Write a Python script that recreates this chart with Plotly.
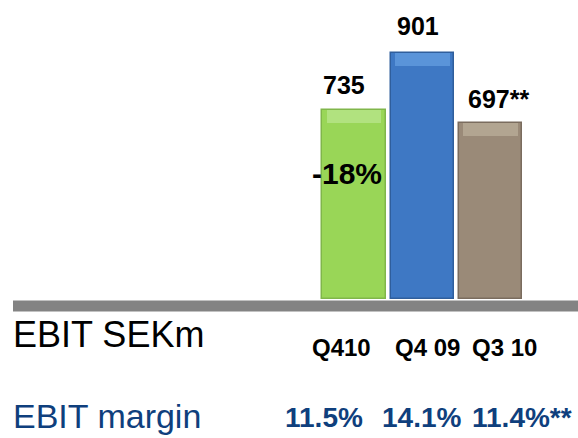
import plotly.graph_objects as go

categories = ["Q410", "Q4 09", "Q3 10"]
ebit = [735, 901, 697]
value_labels = ["735", "901", "697**"]
margins = ["11.5%", "14.1%", "11.4%**"]
change_label = "-18%"
colors = ["#99d657", "#3e78c4", "#9a8a78"]
highlight_colors = ["#b4e384", "#5d97dc", "#b5a794"]
edge_colors = ["#80b64a", "#2f5e9c", "#7a6c5e"]

W, H = 578, 438
FONT = "Liberation Sans, Arial, sans-serif"
x_range = [-5.185, 3.28]
y_bottom_px = 299.3
y_min = 186.0
px_per_unit = 0.345
y_max = y_min + y_bottom_px / px_per_unit
band = 13 / px_per_unit  # highlight band height in data units

xs = list(range(len(categories)))
fig = go.Figure()
fig.add_trace(go.Bar(
    x=xs, y=[v - y_min for v in ebit], base=y_min, width=0.93,
    marker=dict(color=colors, line=dict(color=edge_colors, width=1.5)),
    hoverinfo="skip",
))
fig.add_trace(go.Bar(
    x=xs, y=[band] * len(ebit), base=[v - band for v in ebit], width=0.80,
    marker=dict(color=highlight_colors, line=dict(width=0), opacity=0.9),
    hoverinfo="skip",
))

# value labels above bars
label_dx = [-10, -4, 8]
label_dy = [25, 27, 24.5]
for i, (v, t) in enumerate(zip(ebit, value_labels)):
    fig.add_annotation(x=i, y=v, text=f"<b>{t}</b>", showarrow=False,
                       xshift=label_dx[i], yshift=label_dy[i],
                       font=dict(family=FONT, size=25, color="black"))

fig.add_annotation(x=0, y=ebit[0], text=f"<b>{change_label}</b>", showarrow=False,
                   xshift=-7, yshift=-63.5, font=dict(family=FONT, size=30, color="black"))

# baseline bar
fig.add_shape(type="rect", xref="paper", yref="paper", x0=13 / W, x1=1, y0=1 - 311.5 / H, y1=1 - 300.5 / H,
              fillcolor="#838383", line=dict(width=0))

# left labels
fig.add_annotation(xref="paper", yref="paper", x=11 / W, y=1 - 334 / H, xanchor="left", yanchor="middle",
                   text="EBIT SEKm", showarrow=False,
                   font=dict(family=FONT, size=36, color="black"))
fig.add_annotation(xref="paper", yref="paper", x=11 / W, y=1 - 416 / H, xanchor="left", yanchor="middle",
                   text="EBIT margin", showarrow=False,
                   font=dict(family=FONT, size=34, color="#0f3f7d"))

# category labels
cat_x = [341, 427.5, 504]
for cx, c in zip(cat_x, categories):
    fig.add_annotation(xref="paper", yref="paper", x=cx / W, y=1 - 347.5 / H, xanchor="center", yanchor="middle",
                       text=f"<b>{c}</b>", showarrow=False,
                       font=dict(family=FONT, size=24, color="black"))

# margins
m_x = [324, 421.7, 522]
for mx, m in zip(m_x, margins):
    fig.add_annotation(xref="paper", yref="paper", x=mx / W, y=1 - 417 / H, xanchor="center", yanchor="middle",
                       text=f"<b>{m}</b>", showarrow=False,
                       font=dict(family=FONT, size=28, color="#0f3f7d"))

fig.update_layout(
    width=W, height=H, margin=dict(l=0, r=0, t=0, b=0),
    paper_bgcolor="white", plot_bgcolor="white", showlegend=False,
    barmode="overlay",
    xaxis=dict(range=x_range, visible=False, fixedrange=True),
    yaxis=dict(range=[y_min, y_max], domain=[1 - y_bottom_px / H, 1], visible=False, fixedrange=True),
    bargap=0,
)
fig.write_html("out.html", config={"displayModeBar": False},
               post_script="document.body.style.margin='0';document.body.style.overflow='hidden';")
